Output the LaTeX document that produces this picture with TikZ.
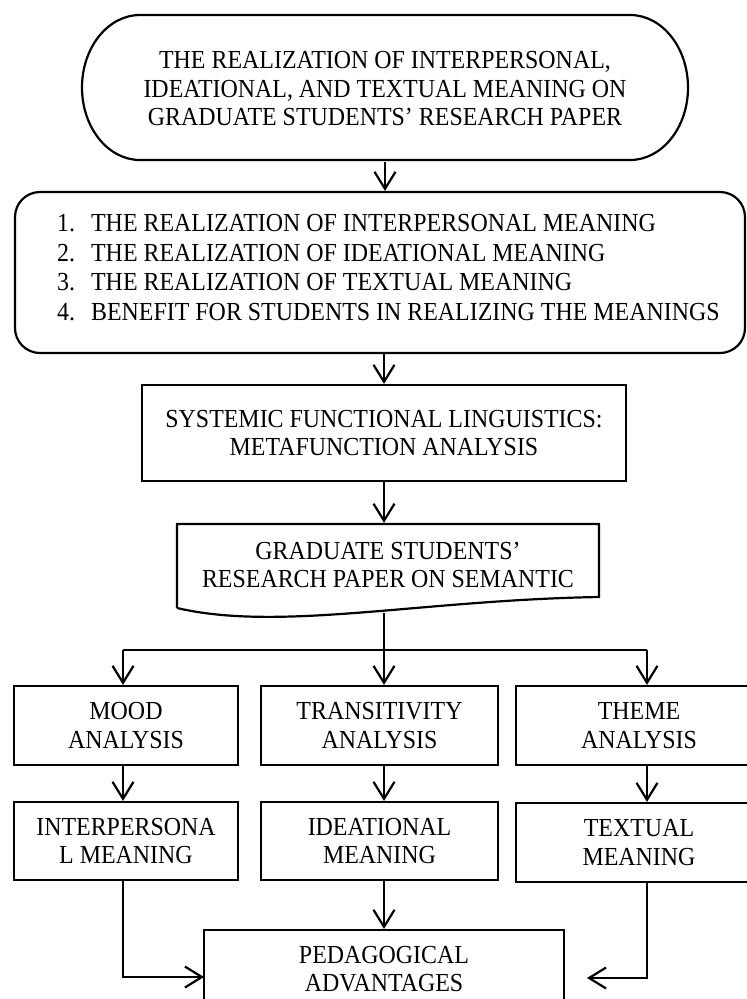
\documentclass[tikz,border=0pt]{standalone}
\usepackage{fontspec}
\setmainfont{Liberation Serif}[FakeStretch=0.92]
\usetikzlibrary{arrows.meta,calc}
\begin{document}
\begin{tikzpicture}[x=1pt,y=1pt,
  lw/.style={line width=2.2pt},
  txt/.style={font=\fontsize{26}{28.5}\selectfont, align=center, inner sep=0pt},
  box/.style={draw, lw, rectangle, txt},
  arr/.style={lw, -{Straight Barb[length=17pt,width=21pt]}}]
\useasboundingbox (0,0) rectangle (747,-999);
\clip (0,0) rectangle (747,-999);

% terminator
\node[txt, minimum width=606pt, minimum height=145pt] (term) at (385,-89)
  {THE REALIZATION OF INTERPERSONAL,\\IDEATIONAL, AND TEXTUAL MEANING ON\\GRADUATE STUDENTS’ RESEARCH PAPER};
\draw[lw] (140,-15) -- (630,-15) arc[start angle=90, end angle=-90, x radius=58, y radius=72.5]
  -- (140,-160) arc[start angle=270, end angle=90, x radius=58, y radius=72.5] -- cycle;

% list box
\node[draw, lw, rounded corners=25pt, minimum width=730pt, minimum height=161pt, inner sep=0pt] (list) at (380,-272.5) {};
\node[anchor=north west, inner sep=0pt, font=\fontsize{26}{29.5}\selectfont] (listtxt) at (57,-211)
  {\begin{tabular}{@{}l@{\hspace{16pt}}l@{}}
   1.&THE REALIZATION OF INTERPERSONAL MEANING\\
   2.&THE REALIZATION OF IDEATIONAL MEANING\\
   3.&THE REALIZATION OF TEXTUAL MEANING\\
   4.&BENEFIT FOR STUDENTS IN REALIZING THE MEANINGS
   \end{tabular}};

% SFL
\node[box, minimum width=484pt, minimum height=96pt] (sfl) at (384,-433)
  {SYSTEMIC FUNCTIONAL LINGUISTICS:\\METAFUNCTION ANALYSIS};

% document
\node[txt, minimum width=422pt, minimum height=84pt] (doc) at (388,-565)
  {GRADUATE STUDENTS’\\RESEARCH PAPER ON SEMANTIC};
\draw[lw] (177,-608) -- (177,-524) -- (599,-524) -- (599,-597)
  .. controls (420,-600) and (280,-632) .. (177,-608);
\coordinate (docb) at (384,-613);
\coordinate (split) at (384,-650);
\coordinate (bl) at (123,-650);
\coordinate (br) at (647,-650);

% row 1
\node[box, minimum width=224pt, minimum height=79pt] (mood) at (126,-725.5) {MOOD\\ANALYSIS};
\node[box, minimum width=237pt, minimum height=79pt] (trans) at (379.5,-725.5) {TRANSITIVITY\\ANALYSIS};
\node[box, minimum width=246pt, minimum height=79pt] (theme) at (639,-725.5) {THEME\\ANALYSIS};
% row 2
\node[box, minimum width=224pt, minimum height=78pt] (interp) at (126,-841) {INTERPERSONA\\L MEANING};
\node[box, minimum width=237pt, minimum height=78pt] (idea) at (379.5,-841) {IDEATIONAL\\MEANING};
\node[box, minimum width=246pt, minimum height=79pt] (textual) at (639,-842.5) {TEXTUAL\\MEANING};
% bottom
\node[box, minimum width=360pt, minimum height=78pt] (ped) at (384,-969) {PEDAGOGICAL\\ADVANTAGES};
\coordinate (pl) at (204,-977);
\coordinate (pr) at (587,-978);

% connectors
\draw[arr] (term.south) -- (term.south |- list.north);
\draw[arr] (sfl.north |- list.south) -- (sfl.north);
\draw[arr] (sfl.south) -- (sfl.south |- doc.north);
\draw[lw] (docb) -- (split);
\draw[lw] (bl) -- (br);
\draw[arr] (bl) -- (bl |- mood.north);
\draw[arr] (split) -- (split |- trans.north);
\draw[arr] (br) -- (br |- theme.north);
\draw[arr] (bl |- mood.south) -- (bl |- interp.north);
\draw[arr] (split |- trans.south) -- (split |- idea.north);
\draw[arr] (br |- theme.south) -- (br |- textual.north);
\draw[arr] (bl |- interp.south) |- (pl);
\draw[arr] (split |- idea.south) -- (split |- ped.north);
\draw[arr] (br |- textual.south) |- (pr);
\end{tikzpicture}
\end{document}
